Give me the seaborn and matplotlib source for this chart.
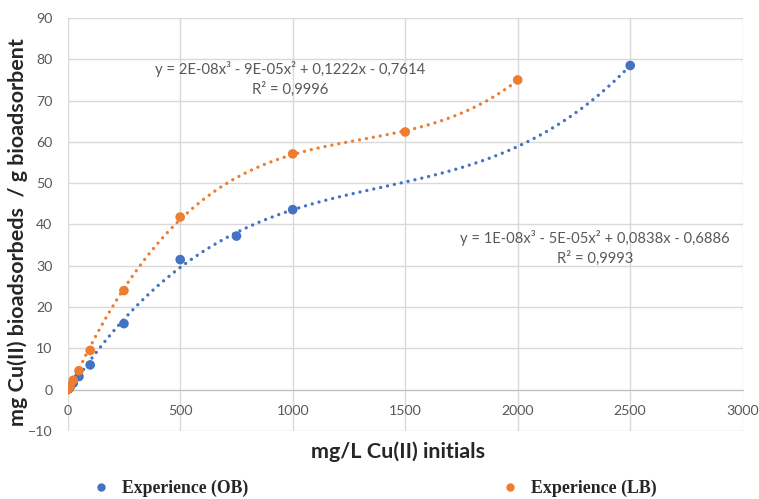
import numpy as np
import pandas as pd
import seaborn as sns
import matplotlib.pyplot as plt
from matplotlib.lines import Line2D

# data
conc_ob = [5, 10, 25, 50, 100, 250, 500, 750, 1000, 2500]
q_ob = [0.2, 0.6, 1.6, 3.2, 6.0, 16.0, 31.5, 37.2, 43.6, 78.5]
conc_lb = [5, 10, 25, 50, 100, 250, 500, 1000, 1500, 2000]
q_lb = [0.3, 0.8, 2.3, 4.6, 9.5, 24.0, 41.8, 57.1, 62.4, 75.0]

eq_ob = "y = 1E-08x³ - 5E-05x² + 0,0838x - 0,6886\nR² = 0,9993"
eq_lb = "y = 2E-08x³ - 9E-05x² + 0,1222x - 0,7614\nR² = 0,9996"
labels = ['Experience (OB)', 'Experience (LB)']

blue = "#4472C4"
orange = "#ED7D31"
W, H = 759, 499

sns.set_style("white")
plt.rcParams['font.family'] = ['Lato', 'DejaVu Sans']

df_ob = pd.DataFrame({'x': conc_ob, 'y': q_ob})
df_lb = pd.DataFrame({'x': conc_lb, 'y': q_lb})

# cubic trendlines fitted to the points, as in the spreadsheet
def trend(df):
    coef = np.polyfit(df['x'], df['y'], 3)
    xs = np.linspace(0, df['x'].max(), 300)
    return pd.DataFrame({'x': xs, 'y': np.polyval(coef, xs)})

fig = plt.figure(figsize=(W / 100, H / 100), dpi=100)
ax = fig.add_axes([67.7 / W, 1 - 431 / H, 675 / W, 413 / H])

def fit(txt, target, vertical=False):
    # scale a text's font so it spans about target pixels
    fig.canvas.draw()
    bb = txt.get_window_extent()
    size = bb.height if vertical else bb.width
    txt.set_fontsize(txt.get_fontsize() * target / size)

dots = (0, (0.01, 2.1))
sns.lineplot(data=trend(df_ob), x='x', y='y', color=blue, lw=2.4, linestyle=dots,
             ax=ax, zorder=2)
sns.lineplot(data=trend(df_lb), x='x', y='y', color=orange, lw=2.4, linestyle=dots,
             ax=ax, zorder=2)
for line in ax.lines:
    line.set_dash_capstyle('round')
sns.scatterplot(data=df_ob, x='x', y='y', color=blue, s=48, edgecolor='none', ax=ax, zorder=3)
sns.scatterplot(data=df_lb, x='x', y='y', color=orange, s=48, edgecolor='none', ax=ax, zorder=3)

ax.set_xlim(0, 3000)
ax.set_ylim(-10, 90)
ax.set_xticks(range(0, 3001, 500))
ax.set_yticks(range(-10, 91, 10))
ax.grid(True, color='#D9D9D9', lw=1)
ax.set_axisbelow(True)
for s in ['top', 'right', 'left']:
    ax.spines[s].set_visible(False)
ax.spines['bottom'].set_position(('data', 0))
ax.spines['bottom'].set_color('#BFBFBF')
ax.tick_params(length=0, labelsize=10.5, labelcolor='#595959')
ax.tick_params(axis='x', pad=11)
ax.tick_params(axis='y', pad=11)
ax.set_xlabel('')
ax.set_ylabel('')

fig.canvas.draw()
w1500 = ax.get_xticklabels()[3].get_window_extent().width
ax.tick_params(labelsize=10.5 * 33 / w1500)

xl = fig.text(398 / W, 1 - 452 / H, 'mg/L Cu(II) initials', ha='center', va='center',
              fontsize=12, fontweight='bold')
fit(xl, 173)
yl = fig.text(18 / W, 1 - 232 / H, 'mg Cu(II) bioadsorbeds  / g bioadsorbent', ha='center',
              va='center', rotation=90, fontsize=12, fontweight='bold')
fit(yl, 385, vertical=True)

t_lb = fig.text(290 / W, 1 - 79 / H, eq_lb, ha='center', va='center',
                fontsize=10, color='#595959', linespacing=1.35)
fit(t_lb, 270)
t_ob = fig.text(595 / W, 1 - 248 / H, eq_ob, ha='center', va='center',
                fontsize=10, color='#595959', linespacing=1.35)
fit(t_ob, 267)

# one legend entry per column, placed like the spreadsheet's bottom legend
prop = {'family': 'Liberation Serif', 'weight': 'bold', 'size': 11}
for col, lab, mx in [(blue, labels[0], 100.7), (orange, labels[1], 509.7)]:
    h = Line2D([], [], marker='o', ls='', color=col, markersize=5)
    hl = 1.0
    fs = prop['size'] * 100 / 72
    leg = fig.legend([h], [lab], loc='center left', frameon=False, prop=prop,
                     handlelength=hl, handletextpad=0.9, borderpad=0, borderaxespad=0,
                     bbox_to_anchor=((mx - hl * fs / 2) / W, 1 - 488 / H))
    fig.canvas.draw()
    lw_ = leg.get_texts()[0].get_window_extent().width
    leg.get_texts()[0].set_fontsize(prop['size'] * 125 / lw_)

fig.savefig('out.png', dpi=100)
